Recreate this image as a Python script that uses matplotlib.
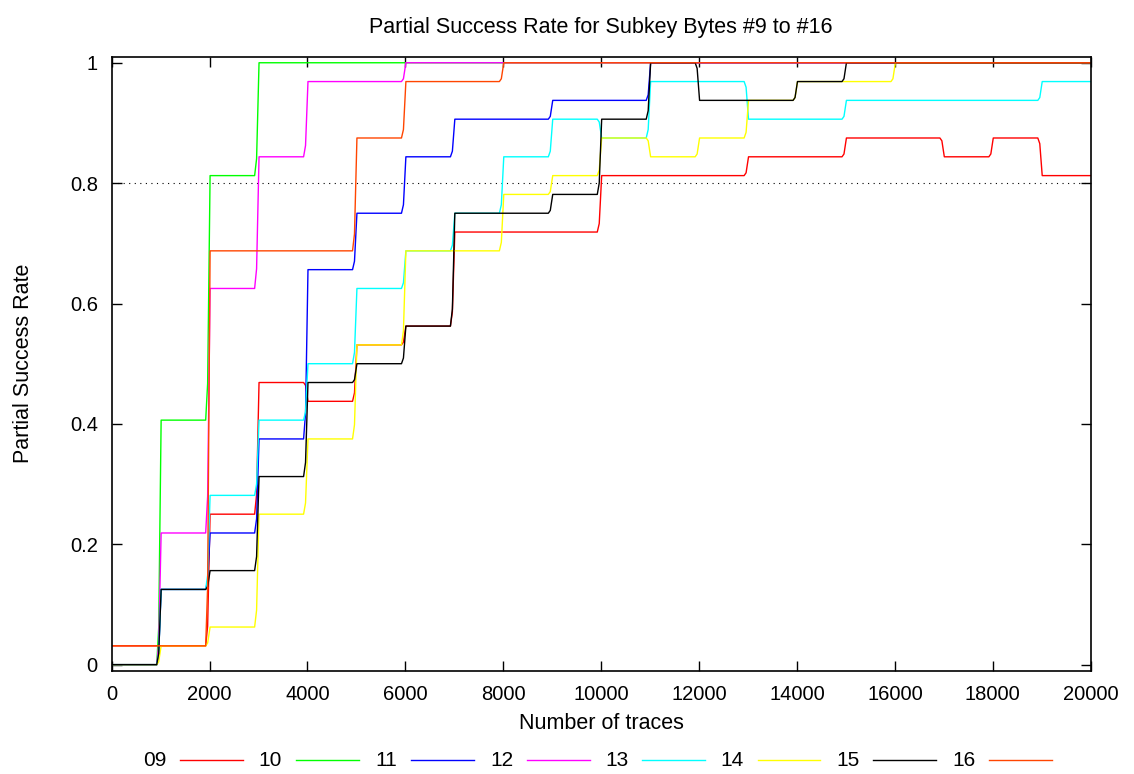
import numpy as np
import matplotlib
matplotlib.use("Agg")
import matplotlib.pyplot as plt
from matplotlib.lines import Line2D

plt.rcParams["font.family"] = ["Liberation Sans", "DejaVu Sans"]
plt.rcParams["font.size"] = 14.5

# success rate sampled every 1000 traces (0 .. 20000)
traces = np.arange(0, 20001, 1000)
byte_names = ["09", "10", "11", "12", "13", "14", "15", "16"]
colors = ["#ff0000", "#00ff00", "#0000ff", "#ff00ff", "#00ffff", "#ffff00", "#000000", "#ff4500"]

sr09 = [0.03125, 0.03125, 0.25, 0.46875, 0.4375, 0.53125, 0.5625, 0.71875, 0.71875, 0.71875, 0.8125,
        0.8125, 0.8125, 0.84375, 0.84375, 0.875, 0.875, 0.84375, 0.875, 0.8125, 0.8125]
sr10 = [0, 0.40625, 0.8125, 1, 1, 1, 1, 1, 1, 1, 1,
        1, 1, 1, 1, 1, 1, 1, 1, 1, 1]
sr11 = [0, 0.125, 0.21875, 0.375, 0.65625, 0.75, 0.84375, 0.90625, 0.90625, 0.9375, 0.9375,
        1, 1, 1, 1, 1, 1, 1, 1, 1, 1]
sr12 = [0, 0.21875, 0.625, 0.84375, 0.96875, 0.96875, 1, 1, 1, 1, 1,
        1, 1, 1, 1, 1, 1, 1, 1, 1, 1]
sr13 = [0, 0.125, 0.28125, 0.40625, 0.5, 0.625, 0.6875, 0.75, 0.84375, 0.90625, 0.875,
        0.96875, 0.96875, 0.90625, 0.90625, 0.9375, 0.9375, 0.9375, 0.9375, 0.96875, 0.96875]
sr14 = [0, 0.03125, 0.0625, 0.25, 0.375, 0.53125, 0.6875, 0.6875, 0.78125, 0.8125, 0.875,
        0.84375, 0.875, 0.9375, 0.96875, 0.96875, 1, 1, 1, 1, 1]
sr15 = [0, 0.125, 0.15625, 0.3125, 0.46875, 0.5, 0.5625, 0.75, 0.75, 0.78125, 0.90625,
        1, 0.9375, 0.9375, 0.96875, 1, 1, 1, 1, 1, 1]
sr16 = [0.03125, 0.03125, 0.6875, 0.6875, 0.6875, 0.875, 0.96875, 0.96875, 1, 1, 1,
        1, 1, 1, 1, 1, 1, 1, 1, 1, 1]
rates = [sr09, sr10, sr11, sr12, sr13, sr14, sr15, sr16]


def step_curve(xs, ys):
    # hold each value, then ramp quickly into the next sample
    px, py = [xs[0]], [ys[0]]
    for i in range(1, len(xs)):
        a, b = ys[i - 1], ys[i]
        if a != b:
            px += [xs[i] - 80, xs[i] - 40, xs[i] + 10]
            py += [a, a + 0.15 * (b - a), b]
    px.append(xs[-1])
    py.append(ys[-1])
    return px, py


fig = plt.figure(figsize=(11.34, 7.74), dpi=100)
ax = fig.add_axes([0.0985, 0.1335, 0.8633, 0.7932])

ax.axhline(0.8, color="black", lw=0.8, ls=(0, (1, 4)), zorder=1)
for ys, c in zip(rates, colors):
    x, y = step_curve(traces, ys)
    ax.plot(x, y, color=c, lw=1.0, zorder=2)

ax.set_xlim(0, 20000)
ax.set_ylim(-0.01, 1.01)
ax.set_xticks(np.arange(0, 20001, 2000))
ax.set_yticks([0, 0.2, 0.4, 0.6, 0.8, 1])
ax.set_yticklabels(["0", "0.2", "0.4", "0.6", "0.8", "1"])
ax.tick_params(direction="in", length=7, width=1, top=True, right=True, pad=10)
for s in ax.spines.values():
    s.set_linewidth(1.2)

ax.set_title("Partial Success Rate for Subkey Bytes #9 to #16", fontsize=15.5, pad=17)
ax.set_xlabel("Number of traces", fontsize=15.5, labelpad=7)
ax.set_ylabel("Partial Success Rate", fontsize=15.5, labelpad=26)

# key along the bottom: label then line sample
W, H = 1134, 774
for i, (name, c) in enumerate(zip(byte_names, colors)):
    cx = 155 + i * 115.5
    fig.text(cx / W, 1 - 760 / H, name, ha="center", va="center", fontsize=15)
    fig.add_artist(Line2D([(cx + 25) / W, (cx + 88) / W], [1 - 760 / H, 1 - 760 / H],
                          color=c, lw=1.0, transform=fig.transFigure))

fig.savefig("out.png", dpi=100)
